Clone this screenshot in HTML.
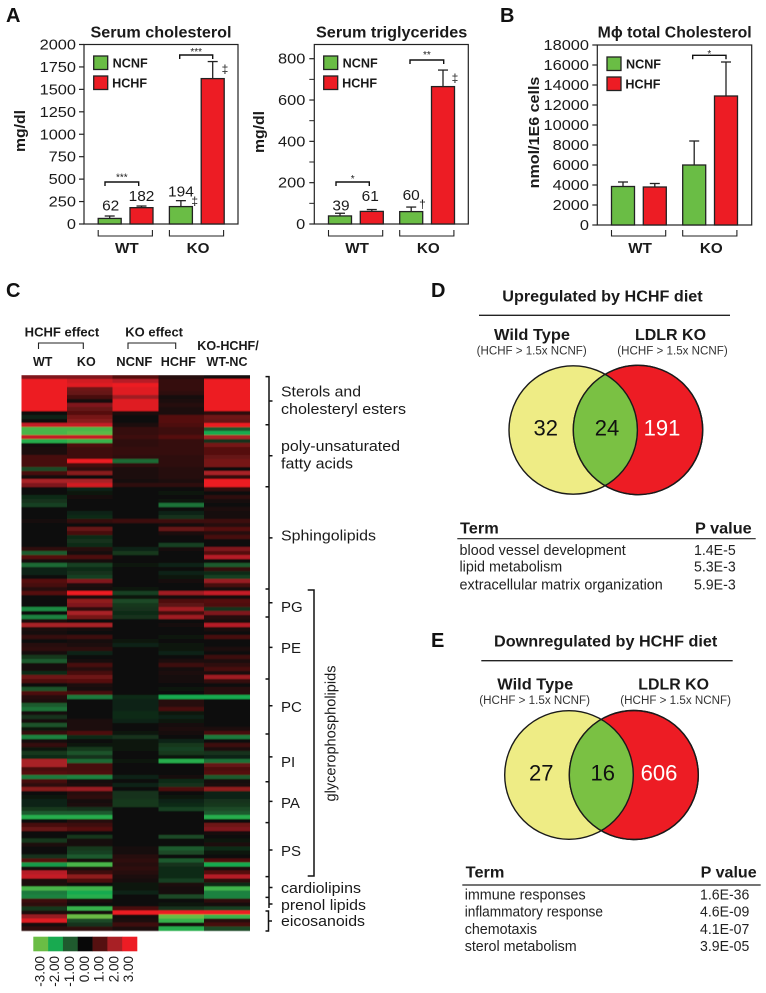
<!DOCTYPE html>
<html lang="en">
<head>
<meta charset="utf-8">
<title>Serum lipids, lipidomic heatmap and gene expression Venn diagrams</title>
<style>
html,body{margin:0;padding:0;background:#fff;}
svg{display:block;font-family:"Liberation Sans",Arial,sans-serif;fill:#1a1a1a;}
.b{font-weight:bold;}
.panel{font-weight:bold;font-size:20px;fill:#111;}
.lip{font-size:15px;}
.sub{font-size:11.5px;fill:#333;}
.cnt{font-size:22px;fill:#111;text-anchor:middle;}
.row{font-size:14.5px;fill:#222;}
</style>
</head>
<body>
<svg id="fig" width="766" height="993" viewBox="0 0 766 993" xmlns="http://www.w3.org/2000/svg">
  <defs>
    <filter id="soften" x="0" y="0" width="100%" height="100%"><feGaussianBlur stdDeviation="0 0.45"/></filter>
    <clipPath id="clipD"><circle cx="638" cy="430" r="64.7"/></clipPath>
    <clipPath id="clipE"><circle cx="633.8" cy="775" r="64.5"/></clipPath>
  </defs>
  <rect width="766" height="993" fill="#fff"/>

  <text class="panel" x="6" y="22">A</text>
  <text class="panel" x="500" y="22">B</text>
  <text class="panel" x="6" y="297">C</text>
  <text class="panel" x="431" y="297">D</text>
  <text class="panel" x="431" y="647">E</text>

  <g id="chart-chol"></g>
  <g id="chart-tg"></g>
  <g id="chart-mac"></g>

  <!-- Heatmap headers -->
  <g font-weight="bold" font-size="12.5">
    <text x="24.7" y="336.5" textLength="74.6" lengthAdjust="spacingAndGlyphs">HCHF effect</text>
    <text x="125.3" y="336.5" textLength="57.7" lengthAdjust="spacingAndGlyphs">KO effect</text>
    <path d="M38.5 349V343H83.3V349" fill="none" stroke="#222" stroke-width="1.1"/>
    <path d="M128 349V343H175.7V349" fill="none" stroke="#222" stroke-width="1.1"/>
    <text x="42.7" y="366" text-anchor="middle">WT</text>
    <text x="86.3" y="366" text-anchor="middle">KO</text>
    <text x="134.3" y="366" text-anchor="middle" textLength="36" lengthAdjust="spacingAndGlyphs">NCNF</text>
    <text x="178.3" y="366" text-anchor="middle" textLength="35" lengthAdjust="spacingAndGlyphs">HCHF</text>
    <text x="197.3" y="350" textLength="61.4" lengthAdjust="spacingAndGlyphs">KO-HCHF/</text>
    <text x="227" y="366" text-anchor="middle">WT-NC</text>
  </g>

  <g id="heatmap" shape-rendering="crispEdges" filter="url(#soften)"></g>
  <g id="colorbar"></g>

  <!-- Lipid class brackets -->
  <g fill="none" stroke="#111" stroke-width="1.5">
    <path d="M265.5 376.6H269V908M265.5 424.7H269M265.5 486.8H269M265.5 589H269M265.5 617H269M265.5 679H269M265.5 734H269M265.5 781.7H269M265.5 822.6H269M265.5 876.6H269M265.5 897.4H269"/>
    <path d="M269 401H272.5M269 455.8H272.5M269 537.9H272.5M269 602.8H272.5M269 647.4H272.5M269 705.8H272.5M269 756.9H272.5M269 801.4H272.5M269 850H272.5M269 887.5H272.5M269 904H272.5"/>
    <path d="M265.5 911H268.5V931H265.5M268.5 921H272"/>
    <path d="M307.7 590H314V876H307.7"/>
  </g>
  <g class="lip">
    <text x="281" y="396.3" textLength="80" lengthAdjust="spacingAndGlyphs">Sterols and</text>
    <text x="281" y="413.8" textLength="125" lengthAdjust="spacingAndGlyphs">cholesteryl esters</text>
    <text x="281" y="451" textLength="119" lengthAdjust="spacingAndGlyphs">poly-unsaturated</text>
    <text x="281" y="468.5" textLength="72" lengthAdjust="spacingAndGlyphs">fatty acids</text>
    <text x="281" y="540.4" textLength="95" lengthAdjust="spacingAndGlyphs">Sphingolipids</text>
    <text x="281" y="612">PG</text>
    <text x="281" y="653">PE</text>
    <text x="281" y="712">PC</text>
    <text x="281" y="767">PI</text>
    <text x="281" y="808">PA</text>
    <text x="281" y="856">PS</text>
    <text x="281" y="893" textLength="80" lengthAdjust="spacingAndGlyphs">cardiolipins</text>
    <text x="281" y="910" textLength="85" lengthAdjust="spacingAndGlyphs">prenol lipids</text>
    <text x="281" y="926" textLength="84" lengthAdjust="spacingAndGlyphs">eicosanoids</text>
    <text transform="translate(335.5 733.5) rotate(-90)" text-anchor="middle" textLength="136" lengthAdjust="spacingAndGlyphs">glycerophospholipids</text>
  </g>

  <!-- Panel D -->
  <g>
    <text class="b" x="502.3" y="301.7" font-size="15.5" textLength="200.4" lengthAdjust="spacingAndGlyphs">Upregulated by HCHF diet</text>
    <line x1="479" x2="730" y1="315.3" y2="315.3" stroke="#222" stroke-width="1.3"/>
    <text class="b" x="494" y="340" font-size="16" textLength="76" lengthAdjust="spacingAndGlyphs">Wild Type</text>
    <text class="b" x="635" y="340" font-size="16" textLength="71" lengthAdjust="spacingAndGlyphs">LDLR KO</text>
    <text class="sub" x="476.7" y="354.3" textLength="110" lengthAdjust="spacingAndGlyphs">(HCHF &gt; 1.5x NCNF)</text>
    <text class="sub" x="617.3" y="354.3" textLength="110.4" lengthAdjust="spacingAndGlyphs">(HCHF &gt; 1.5x NCNF)</text>
    <circle cx="573.2" cy="430" r="64.2" fill="#eeec85" stroke="#1a1a1a" stroke-width="1.4"/>
    <circle cx="638" cy="430" r="64.7" fill="#ed1c24" stroke="#1a1a1a" stroke-width="1.4"/>
    <circle cx="573.2" cy="430" r="64.2" fill="#7ac143" stroke="#1a1a1a" stroke-width="1.4" clip-path="url(#clipD)"/>
    <circle cx="638" cy="430" r="64.7" fill="none" stroke="#1a1a1a" stroke-width="1.4"/>
    <text class="cnt" x="545.7" y="435.7">32</text>
    <text class="cnt" x="607" y="435.7">24</text>
    <text class="cnt" x="662" y="435.7" style="fill:#fff">191</text>
    <text class="b" x="460" y="533.3" font-size="16" textLength="38.7" lengthAdjust="spacingAndGlyphs">Term</text>
    <text class="b" x="695" y="533.3" font-size="16" textLength="56.7" lengthAdjust="spacingAndGlyphs">P value</text>
    <line x1="457.3" x2="755.7" y1="538.7" y2="538.7" stroke="#222" stroke-width="1.2"/>
    <text class="row" x="459.5" y="555" textLength="166.3" lengthAdjust="spacingAndGlyphs">blood vessel development</text>
    <text class="row" x="694" y="555" textLength="41.7" lengthAdjust="spacingAndGlyphs">1.4E-5</text>
    <text class="row" x="459.5" y="571.7" textLength="102.7" lengthAdjust="spacingAndGlyphs">lipid metabolism</text>
    <text class="row" x="694" y="571.7" textLength="41.7" lengthAdjust="spacingAndGlyphs">5.3E-3</text>
    <text class="row" x="459.5" y="589.3" textLength="203.3" lengthAdjust="spacingAndGlyphs">extracellular matrix organization</text>
    <text class="row" x="694" y="589.3" textLength="41.7" lengthAdjust="spacingAndGlyphs">5.9E-3</text>
  </g>

  <!-- Panel E -->
  <g>
    <text class="b" x="494" y="646.7" font-size="15.5" textLength="223.3" lengthAdjust="spacingAndGlyphs">Downregulated by HCHF diet</text>
    <line x1="481.3" x2="732.7" y1="660.7" y2="660.7" stroke="#222" stroke-width="1.3"/>
    <text class="b" x="497.3" y="689.3" font-size="16" textLength="76" lengthAdjust="spacingAndGlyphs">Wild Type</text>
    <text class="b" x="638.3" y="689.3" font-size="16" textLength="70.7" lengthAdjust="spacingAndGlyphs">LDLR KO</text>
    <text class="sub" x="479.3" y="704" textLength="110.7" lengthAdjust="spacingAndGlyphs">(HCHF &gt; 1.5x NCNF)</text>
    <text class="sub" x="620.3" y="704" textLength="110.7" lengthAdjust="spacingAndGlyphs">(HCHF &gt; 1.5x NCNF)</text>
    <circle cx="569" cy="775" r="64.3" fill="#eeec85" stroke="#1a1a1a" stroke-width="1.4"/>
    <circle cx="633.8" cy="775" r="64.5" fill="#ed1c24" stroke="#1a1a1a" stroke-width="1.4"/>
    <circle cx="569" cy="775" r="64.3" fill="#7ac143" stroke="#1a1a1a" stroke-width="1.4" clip-path="url(#clipE)"/>
    <circle cx="633.8" cy="775" r="64.5" fill="none" stroke="#1a1a1a" stroke-width="1.4"/>
    <text class="cnt" x="541.3" y="780.7">27</text>
    <text class="cnt" x="602.7" y="780.7">16</text>
    <text class="cnt" x="659" y="780.7" style="fill:#fff">606</text>
    <text class="b" x="465.7" y="877.7" font-size="16" textLength="38.7" lengthAdjust="spacingAndGlyphs">Term</text>
    <text class="b" x="700.7" y="877.7" font-size="16" textLength="56" lengthAdjust="spacingAndGlyphs">P value</text>
    <line x1="462.3" x2="760.7" y1="885" y2="885" stroke="#222" stroke-width="1.2"/>
    <text class="row" x="464.7" y="899.3" textLength="121" lengthAdjust="spacingAndGlyphs">immune responses</text>
    <text class="row" x="700" y="899.3" textLength="49.3" lengthAdjust="spacingAndGlyphs">1.6E-36</text>
    <text class="row" x="464.7" y="916.7" textLength="138.3" lengthAdjust="spacingAndGlyphs">inflammatory response</text>
    <text class="row" x="700" y="916.7" textLength="49.3" lengthAdjust="spacingAndGlyphs">4.6E-09</text>
    <text class="row" x="464.7" y="934" textLength="72.3" lengthAdjust="spacingAndGlyphs">chemotaxis</text>
    <text class="row" x="700" y="934" textLength="49.3" lengthAdjust="spacingAndGlyphs">4.1E-07</text>
    <text class="row" x="464.7" y="951" textLength="112" lengthAdjust="spacingAndGlyphs">sterol metabolism</text>
    <text class="row" x="700" y="951" textLength="49.3" lengthAdjust="spacingAndGlyphs">3.9E-05</text>
  </g>
</svg>

<script>
// ---- Bar chart data ----
const seriesNames = ['NCNF', 'HCHF'];
const groupNames = ['WT', 'KO'];

const cholMeans = [62, 182, 194, 1620];
const cholErrorTops = [89, 200, 260, 1810];
const cholPrinted = ['62', '182', '194', ''];
const cholTicks = [0, 250, 500, 750, 1000, 1250, 1500, 1750, 2000];

const tgMeans = [39, 61, 60, 665];
const tgErrorTops = [52, 70, 82, 745];
const tgPrinted = ['39', '61', '60', ''];
const tgTicks = [0, 200, 400, 600, 800];
const tgMinorTicks = [100, 300, 500, 700];

const macMeans = [3850, 3800, 6000, 12900];
const macErrorTops = [4300, 4150, 8400, 16300];
const macPrinted = ['', '', '', ''];
const macTicks = [0, 2000, 4000, 6000, 8000, 10000, 12000, 14000, 16000, 18000];

// ---- Heatmap data (log2 ratio), one row per lipid band, columns left to right ----
const heatmapColumns = ['WT', 'KO', 'NCNF', 'HCHF', 'KO-HCHF/WT-NC'];
const heatmapRows = [
[1.5,1.5,1,.4,.2],[3,2.6,2.2,.6,3],[3,2.8,3,.6,3],[3,1.3,2.8,.6,3],[3,1.2,2.8,.5,3],
[3,.8,1.9,.2,3],[3,.2,2.8,.3,3],[3,1.5,2.8,.4,3],[3,1.2,2.8,.3,3],[.1,1,.3,.3,.5],
[-.3,1.4,0,1,1.3],[-.1,1.6,0,1,1.2],[2.4,2.4,.3,.9,3],[-2.6,-2.6,.6,.7,-1],[-2.6,-2.8,.6,.7,-2],
[2.4,2.4,.7,1,2],[-2.2,-2.4,.5,.6,-.5],[.2,.9,.5,.6,1.4],[.3,.7,.6,.6,1],[.3,.7,.6,.6,1],
[.8,.7,.5,.5,1.2],[.8,3,-1.2,.5,1.4],[.8,.8,.5,.5,1.4],[-.8,.5,.3,.4,.1],[.8,1.6,.3,.4,2],
[.2,.1,.3,.4,.6],[2,2,.2,.3,3],[1.5,2.6,.5,.5,3],[.1,-.3,0,0,.6],[.1,-.2,0,-.2,-.1],
[-.4,.2,0,-.1,.5],[-.5,0,0,-.2,.2],[-.7,-.1,0,-1.3,.1],[0,0,0,-.1,.3],[0,-.3,0,-.3,.2],
[.1,-.4,.1,-.5,.2],[.2,.6,.7,.7,.7],[.1,.1,.1,.2,.4],[.1,1.2,.1,1.2,1],[.1,.8,.1,.3,.4],
[.1,-.4,.1,.1,.8],[.1,-.5,.1,-.1,0],[.1,-.4,.1,-.7,.1],[.5,.4,-.3,.2,1.5],[-1,.2,-.6,.1,1],
[1,.9,-.1,.1,2.2],[.2,.2,-.1,.1,.1],[-1.2,-.7,-.2,-.3,-1],[-.3,-.4,-.1,-.1,.6],[-.3,-.5,0,-.3,-.4],
[.1,-.7,.1,-.2,-.7],[1,1.5,.1,.2,1.8],[.8,.3,.1,.1,.8],[.4,.2,-.2,.1,.2],[1,3,-.7,1.9,2.4],
[.1,.3,-.2,.2,.2],[0,1.7,-.8,.9,1],[-.1,1.5,-.6,1.1,.9],[-1.6,.5,-.5,1.9,-.5],[.1,2,-.4,.8,1.5],
[-1.5,1.4,-.5,1.9,.4],[.3,.1,0,.1,.3],[2,2,0,.2,2.2],[.3,.2,0,0,.3],[.2,.1,-.1,.1,.1],
[.6,.7,-.1,-.2,.8],[.1,.2,-.2,-.1,0],[.4,.3,-.3,-.2,.1],[.5,.5,-.1,-.2,.3],[.2,-.3,0,-.3,-.1],
[-.6,0,0,.1,.7],[-1,.2,-.1,.3,.3],[.2,.8,0,.7,.5],[.2,.4,0,.2,.8],[-.4,.8,0,.3,.3],
[1.3,1.3,0,.2,1.9],[.9,1,0,.2,.6],[.1,.3,0,.1,.1],[-.9,.2,0,-.2,.4],[.9,.8,-.1,.1,.4],
[.4,-1.4,-.4,-2,-2],[.3,.1,-.3,.4,-.1],[-1,0,-.3,.4,-.1],[-1.3,-.1,-.3,.8,0],[.2,.1,-.4,-.2,.1],
[-.5,.1,-.4,-.3,0],[.2,.3,-.3,-.2,.1],[-.9,.3,-.1,.2,-.1],[-.2,.3,-.1,.3,.3],[.6,.9,-.2,.2,.8],
[-1.5,-.4,-.5,-.1,-1.4],[.2,-.1,-.2,-.3,.1],[.6,-.2,-.2,-.6,.7],[-.2,-.6,-.2,-.7,.3],[-.6,-.9,-.1,-.6,-.5],
[-.4,-.5,0,-.2,-.3],[2,-1.2,-.2,-2.2,-1.3],[2,.8,-.1,.1,1.2],[.8,.8,0,.1,.9],[1,.9,0,.1,1],
[-1.4,-1.5,-.3,.2,-1],[.8,.2,0,-.4,.2],[.5,.3,-.3,-.5,.3],[1.6,1.8,-.1,.9,1.7],[-.1,.4,-.5,-.1,-.3],
[-.2,.5,-.5,-.2,-.3],[-.3,.2,-.6,-.3,-.5],[-.3,.3,-.6,-.4,-.6],[-.6,-.5,.1,-.7,-.8],[-1,-1,.1,.1,-1],
[-2.2,-2.2,.1,0,-2.2],[.1,.4,.1,.1,.1],[.8,.7,.1,.1,1.3],[1.2,1,.1,.1,1.5],[0,.1,0,0,.2],
[0,-.6,.1,-.8,.1],[-.6,.2,0,.1,-.2],[.3,.2,.1,.1,.3],[0,-.6,.2,-1,-.4],[0,-.7,.2,-.8,-.2],
[-.5,-1,.4,.1,-.1],[1,.2,.5,-1,.9],[-1.8,-2.6,.4,-.5,-2],[.2,.3,.5,-.4,.3],[2.2,.7,.4,-.4,1],
[2.4,1.7,.3,-.4,2.2],[.3,.9,.2,-.7,.5],[.3,0,-.2,.3,-.4],[-2.6,-2.5,-.2,.2,-2.5],[-1.4,-2,-.3,.2,-1.5],
[-1.5,-2.2,.1,-.8,-1.5],[.7,.3,.1,-.1,.5],[.5,.1,.1,-.2,.2],[-.6,-2.4,.8,-.5,-.7],[.3,.2,3,3,3],
[1.8,-3,.2,-3,-2.4],[2.8,-.8,.3,-2.4,.4],[.2,-.5,.7,.2,.8],[.5,.5,.3,-2.2,-.8]
];
const colorbarValues = [-3, -2, -1, 0, 1, 2, 3];
const colorbarLabels = ['-3.00', '-2.00', '-1.00', '0.00', '1.00', '2.00', '3.00'];

// ---- Helpers ----
const NS = 'http://www.w3.org/2000/svg';
function mk(parent, tag, attrs, txt) {
  const n = document.createElementNS(NS, tag);
  for (const k in attrs) n.setAttribute(k, attrs[k]);
  if (txt !== undefined) n.textContent = txt;
  parent.appendChild(n);
  return n;
}

const GREEN = '#6abd45', RED = '#ed1c24', INK = '#222';

function drawChart(cfg) {
  const g = document.getElementById(cfg.id);
  const y = v => cfg.zeroY - v / cfg.domainMax * (cfg.zeroY - cfg.domainTopY);
  const xBar = i => cfg.left + 25.7 + 31.8 * (i % 2) + 71.2 * Math.floor(i / 2);
  const barW = 23;
  let el;

  el = mk(g, 'rect', {x: cfg.left, y: cfg.top, width: cfg.width, height: cfg.zeroY - cfg.top, fill: 'none', stroke: INK, 'stroke-width': 1.2});
  
  

  cfg.ticks.forEach(t => {
    el = mk(g, 'line', {x1: cfg.left - 5, x2: cfg.left, y1: y(t), y2: y(t), stroke: INK, 'stroke-width': 1.2});
    
    
    const s = String(t);
    el = mk(g, 'text', {x: cfg.left - cfg.labelGap, y: y(t) + 5, 'text-anchor': 'end', 'font-size': 14.5, textLength: s.length * 9.1, lengthAdjust: 'spacingAndGlyphs'}, s);
    
    
  });
  (cfg.minorTicks || []).forEach(t => {
    el = mk(g, 'line', {x1: cfg.left - 5, x2: cfg.left, y1: y(t), y2: y(t), stroke: INK, 'stroke-width': 1});
    
    
  });

  cfg.means.forEach((v, i) => {
    const c = xBar(i);
    el = mk(g, 'line', {x1: c, x2: c, y1: y(v), y2: y(cfg.errs[i]), stroke: INK, 'stroke-width': 1.3});
    
    
    el = mk(g, 'line', {x1: c - 5, x2: c + 5, y1: y(cfg.errs[i]), y2: y(cfg.errs[i]), stroke: INK, 'stroke-width': 1.3});
    
    
    el = mk(g, 'rect', {x: c - barW / 2, y: y(v), width: barW, height: cfg.zeroY - y(v), fill: i % 2 ? RED : GREEN, stroke: INK, 'stroke-width': 1.3});
    
    
    if (cfg.printed[i]) {
      el = mk(g, 'text', {x: c + cfg.labelDx[i], y: y(cfg.errs[i]) + cfg.labelDy[i], 'text-anchor': 'middle', 'font-size': 14.5, textLength: cfg.printed[i].length * 8.6, lengthAdjust: 'spacingAndGlyphs'}, cfg.printed[i]);
      
      
    }
  });

  seriesNames.forEach((name, s) => {
    const ly = cfg.legendY + s * 20;
    el = mk(g, 'rect', {x: cfg.legendX, y: ly, width: 14, height: 13.5, fill: s ? RED : GREEN, stroke: INK, 'stroke-width': 1.3});
    
    
    el = mk(g, 'text', {x: cfg.legendX + 19 - s * 0.6, y: ly + 11.5, 'font-size': 12.5, 'font-weight': 'bold', textLength: 35, lengthAdjust: 'spacingAndGlyphs'}, name);
    
    
  });

  groupNames.forEach((name, k) => {
    const x1 = xBar(k * 2) - barW / 2, x2 = xBar(k * 2 + 1) + barW / 2 - 0.6;
    el = mk(g, 'path', {d: `M${x1} 230V236H${x2}V230`, fill: 'none', stroke: INK, 'stroke-width': 1.1});
    
    
    el = mk(g, 'text', {x: (x1 + x2) / 2 + 1.5, y: 253, 'text-anchor': 'middle', 'font-size': 15.2, 'font-weight': 'bold'}, name);
    
    
  });

  cfg.sig.forEach(s => {
    el = mk(g, 'path', {d: `M${s.x1} ${s.y + 4}V${s.y}H${s.x2}V${s.y + 4}`, fill: 'none', stroke: '#111', 'stroke-width': 1.4});
    
    
    el = mk(g, 'text', {x: (s.x1 + s.x2) / 2, y: s.y + s.dy, 'text-anchor': 'middle', 'font-size': 10}, s.stars);
    
    
  });

  cfg.marks.forEach(m => {
    el = mk(g, 'text', {x: m.x, y: m.y, 'text-anchor': 'middle', 'font-size': 12}, m.t);
    
    
  });

  el = mk(g, 'text', {x: cfg.titleX, y: 37.3, 'font-size': 15.5, 'font-weight': 'bold', textLength: cfg.titleW, lengthAdjust: 'spacingAndGlyphs'}, cfg.title);
  
  

  el = mk(g, 'text', {transform: `translate(${cfg.yLabelX} ${cfg.yLabelY}) rotate(-90)`, 'text-anchor': 'middle', 'font-size': 15, 'font-weight': 'bold', textLength: cfg.yLabelW, lengthAdjust: 'spacingAndGlyphs'}, cfg.yLabel);
  
  
}

drawChart({
  id: 'chart-chol', left: 84, width: 154, top: 44.5, zeroY: 224, domainMax: 2000, domainTopY: 44.5, labelGap: 8,
  means: cholMeans, errs: cholErrorTops, printed: cholPrinted, ticks: cholTicks,
  labelDx: [1, 0, 0, 0], labelDy: [-5.3, -5, -4.3, 0],
  legendX: 93.7, legendY: 56,
  sig: [{x1: 105, x2: 138.7, y: 182, stars: '***', dy: -1.5}, {x1: 179.7, x2: 212.7, y: 55, stars: '***', dy: 0}],
  marks: [{x: 194.7, y: 205, t: '‡'}, {x: 225, y: 73, t: '‡'}],
  title: 'Serum cholesterol', titleX: 90.5, titleW: 141,
  yLabel: 'mg/dl', yLabelX: 25, yLabelY: 131, yLabelW: 42
});

drawChart({
  id: 'chart-tg', left: 314.3, width: 154, top: 44.5, zeroY: 224, domainMax: 800, domainTopY: 58.7, labelGap: 9,
  means: tgMeans, errs: tgErrorTops, printed: tgPrinted, ticks: tgTicks, minorTicks: tgMinorTicks,
  labelDx: [1, -1.5, 0, 0], labelDy: [-3, -8.5, -7, 0],
  legendX: 323.7, legendY: 56,
  sig: [{x1: 336, x2: 369.3, y: 182, stars: '*', dy: 0}, {x1: 410, x2: 443.7, y: 60, stars: '**', dy: -2}],
  marks: [{x: 422.5, y: 208, t: '†'}, {x: 455, y: 82, t: '‡'}],
  title: 'Serum triglycerides', titleX: 316, titleW: 151.3,
  yLabel: 'mg/dl', yLabelX: 264, yLabelY: 132, yLabelW: 42
});

drawChart({
  id: 'chart-mac', left: 597.3, width: 154.4, top: 45, zeroY: 225, domainMax: 18000, domainTopY: 45, labelGap: 8.3,
  means: macMeans, errs: macErrorTops, printed: macPrinted, ticks: macTicks,
  labelDx: [0, 0, 0, 0], labelDy: [0, 0, 0, 0],
  legendX: 607, legendY: 57,
  sig: [{x1: 692.7, x2: 726, y: 55.3, stars: '*', dy: 1.5}],
  marks: [],
  title: 'Mϕ total Cholesterol', titleX: 597.7, titleW: 154,
  yLabel: 'nmol/1E6 cells', yLabelX: 539, yLabelY: 132.5, yLabelW: 111.7
});

// ---- Heatmap ----
const stopColors = [[106,189,69],[24,170,80],[31,90,46],[8,8,8],[85,16,16],[168,32,37],[237,28,36]];
function colorFor(v) {
  const p = Math.max(0, Math.min(6, v + 3));
  const a = Math.min(5, Math.floor(p)), f = p - a;
  const c = stopColors[a].map((ch, j) => Math.round(ch + (stopColors[a + 1][j] - ch) * f));
  return `rgb(${c[0]},${c[1]},${c[2]})`;
}
(function drawHeatmap() {
  const g = document.getElementById('heatmap');
  const x0 = 21.7, x1 = 249.3, y0 = 375, y1 = 930.7;
  const cw = (x1 - x0) / heatmapColumns.length;
  const rh = (y1 - y0) / heatmapRows.length;
  heatmapRows.forEach((row, r) => {
    row.forEach((v, c) => {
      const el = mk(g, 'rect', {x: x0 + c * cw, y: y0 + r * rh, width: cw + 0.5, height: rh + 0.5, fill: colorFor(v)});
      
      
    });
  });
})();

(function drawColorbar() {
  const g = document.getElementById('colorbar');
  const x0 = 33.3, w = (137 - 33.3) / colorbarValues.length;
  colorbarValues.forEach((v, i) => {
    let el = mk(g, 'rect', {x: x0 + i * w, y: 936.7, width: w + 0.3, height: 14.6, fill: colorFor(v)});
    
    
    const cx = x0 + (i + 0.5) * w + 3.6;
    el = mk(g, 'text', {transform: `translate(${cx} 956) rotate(-90)`, 'text-anchor': 'end', 'font-size': 13.5}, colorbarLabels[i]);
    
    
  });
})();
</script>
</body>
</html>
